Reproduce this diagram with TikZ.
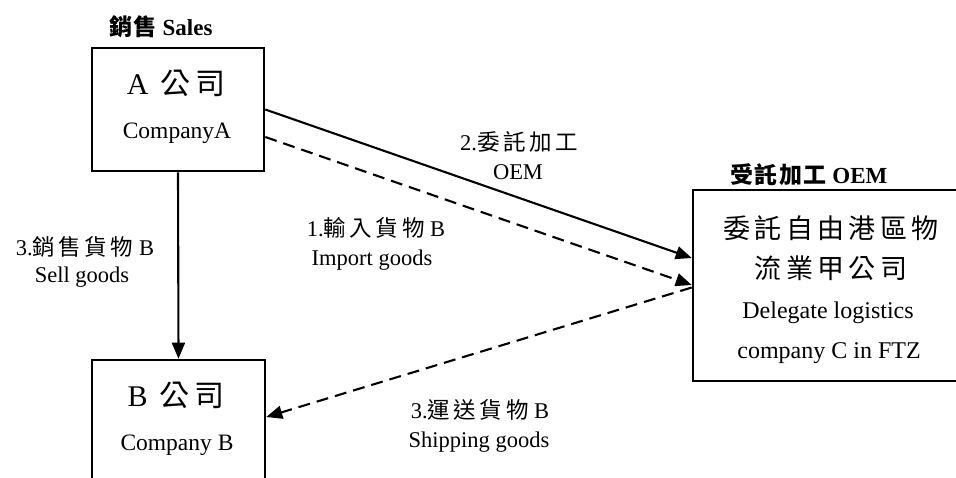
\documentclass[tikz,border=0pt]{standalone}
\usepackage{fontspec}
\setmainfont{Liberation Serif}
\newfontfamily\cjk{Noto Sans CJK TC}[LetterSpace=16]
\newfontfamily\cjkb{Noto Sans CJK TC}[LetterSpace=6]
\usetikzlibrary{arrows.meta}
\begin{document}
\begin{tikzpicture}[x=1pt,y=-1pt,
  box/.style={draw,line width=2.6pt,inner sep=0pt,minimum width=#1},
  conn/.style={line width=2.1pt,-{Triangle[length=16pt,width=13pt]}},
  dconn/.style={conn,dash pattern=on 12pt off 7pt},
  big/.style={inner sep=0pt,font=\fontsize{30}{34}\selectfont},
  txt/.style={inner sep=0pt,font=\fontsize{23.5}{28}\selectfont},
  lab/.style={inner sep=0pt,font=\fontsize{22.5}{26}\selectfont},
  ttl/.style={inner sep=0pt,font=\fontsize{23}{27}\selectfont\bfseries}]
\useasboundingbox (0,0) rectangle (956,477);
% boxes
\node[box=172pt,minimum height=123pt] (A) at (178,109.5) {};
\node[box=173pt,minimum height=140pt] (B) at (178.5,430) {};
\node[box=270pt,minimum height=191pt] (C) at (828,285.5) {};
% titles
\node[ttl] (tA) at (161,27) {{\cjkb 銷售} Sales};
\node[ttl] (tC) at (809,175) {{\cjkb 受託加工} OEM};
% box texts
\node[big] (a1) at (176,83) {A\hspace{0.4em}{\cjk 公司}};
\node[txt] (a2) at (177,133) {CompanyA};
\node[big] (b1) at (176,395) {B\hspace{0.4em}{\cjk 公司}};
\node[txt] (b2) at (177,445) {Company B};
\node[big,font=\fontsize{27}{32}\selectfont] (c1) at (831,228) {\cjk 委託自由港區物};
\node[big,font=\fontsize{27}{32}\selectfont] (c2) at (831,268) {\cjk 流業甲公司};
\node[txt,font=\fontsize{24}{28}\selectfont] (c3) at (828,313) {Delegate logistics};
\node[txt,font=\fontsize{24}{28}\selectfont] (c4) at (829,353) {company C in FTZ};
% connectors
\draw[conn] ([yshift=0pt]A.east) -- ([yshift=27.5pt]C.west);
\draw[dconn] ([yshift=-27.5pt]A.east) -- ([yshift=0.5pt]C.west);
\draw[dconn] ([yshift=-2pt]C.west) -- ([yshift=13pt]B.east);
\draw[conn] (A.south) -- (B.north);
% labels
\node[lab] (l2a) at (519,142) {2.{\cjk 委託加工}};
\node[lab] (l2b) at (518,172) {OEM};
\node[lab] (l1a) at (376,228) {1.{\cjk 輸入貨物} B};
\node[lab] (l1b) at (372,260) {Import goods};
\node[lab] (l3a) at (85,247) {3.{\cjk 銷售貨物} B};
\node[lab] (l3b) at (82,277) {Sell goods};
\node[lab] (l4a) at (480,410) {3.{\cjk 運送貨物} B};
\node[lab] (l4b) at (479,442) {Shipping goods};
\end{tikzpicture}
\end{document}
